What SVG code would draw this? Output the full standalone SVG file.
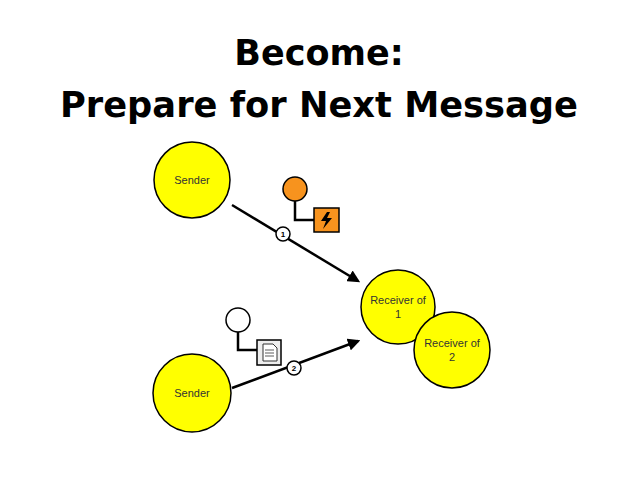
<svg xmlns="http://www.w3.org/2000/svg" width="638" height="479" viewBox="0 0 638 479">
<style>
.t{font-family:"DejaVu Sans","Liberation Sans",sans-serif;font-weight:bold;font-size:35px;fill:#000;text-anchor:middle}
.n circle{fill:#ffff00;stroke:#000;stroke-width:1.5}
.n text{font-family:"Liberation Sans",Arial,sans-serif;font-size:11px;fill:#333;text-anchor:middle}
.e{stroke:#000;stroke-width:2.5;fill:none}
.b circle{fill:#fff;stroke:#000;stroke-width:1.5}
.b text{font-family:"Liberation Sans",sans-serif;font-size:8px;font-weight:bold;text-anchor:middle}
</style>
<defs><marker id="a" viewBox="0 0 10 10" refX="8" refY="5" markerWidth="5" markerHeight="5" orient="auto"><path d="M0,0 L10,5 L0,10 z" fill="#000"/></marker></defs>
<rect width="638" height="479" fill="#fff"/>
<text class="t" x="319" y="65">Become:</text>
<text class="t" x="319" y="117" textLength="518" lengthAdjust="spacingAndGlyphs">Prepare for Next Message</text>
<g id="connectors">
<line class="e" x1="232" y1="205" x2="358" y2="281" marker-end="url(#a)"/>
<line class="e" x1="232" y1="388" x2="358" y2="341" marker-end="url(#a)"/>
<g class="b"><circle cx="283" cy="234" r="7"/><text x="283" y="237">1</text></g>
<g class="b"><circle cx="294" cy="368" r="7"/><text x="294" y="371">2</text></g>
</g>
<g id="sender1" class="n"><circle cx="192" cy="180" r="38"/><text x="192" y="184">Sender</text></g>
<g id="sender2" class="n"><circle cx="192" cy="393" r="39"/><text x="192" y="397">Sender</text></g>
<g id="receiver1" class="n"><circle cx="398" cy="307" r="37"/><text x="398" y="304">Receiver of</text><text x="398" y="318">1</text></g>
<g id="receiver2" class="n"><circle cx="452" cy="350" r="38"/><text x="452" y="347">Receiver of</text><text x="452" y="361">2</text></g>
<g id="signal">
<circle cx="295" cy="189" r="12" fill="#f7931e" stroke="#000" stroke-width="1.5"/>
<path d="M295,201 V220 H315" stroke="#000" stroke-width="2.5" fill="none"/>
<rect x="314" y="208" width="25" height="24" fill="#f7931e" stroke="#000" stroke-width="1.5"/>
<path d="M327,212 L321,221 H326 L323,229 L332,218 H327 L330,212 Z" fill="#000"/>
</g>
<g id="document">
<circle cx="238" cy="320" r="12" fill="#fff" stroke="#000" stroke-width="1.5"/>
<path d="M238,332 V350 H258" stroke="#000" stroke-width="2.5" fill="none"/>
<rect x="257" y="340" width="24" height="25" fill="#eee" stroke="#000" stroke-width="1.5"/>
<path d="M263,344 H273 L277,348 V361 H263 Z" fill="#fff" stroke="#333" stroke-width="1"/>
<path d="M265,350 H274 M265,353 H274 M265,356 H274" stroke="#333" stroke-width="0.8"/>
</g>
</svg>
